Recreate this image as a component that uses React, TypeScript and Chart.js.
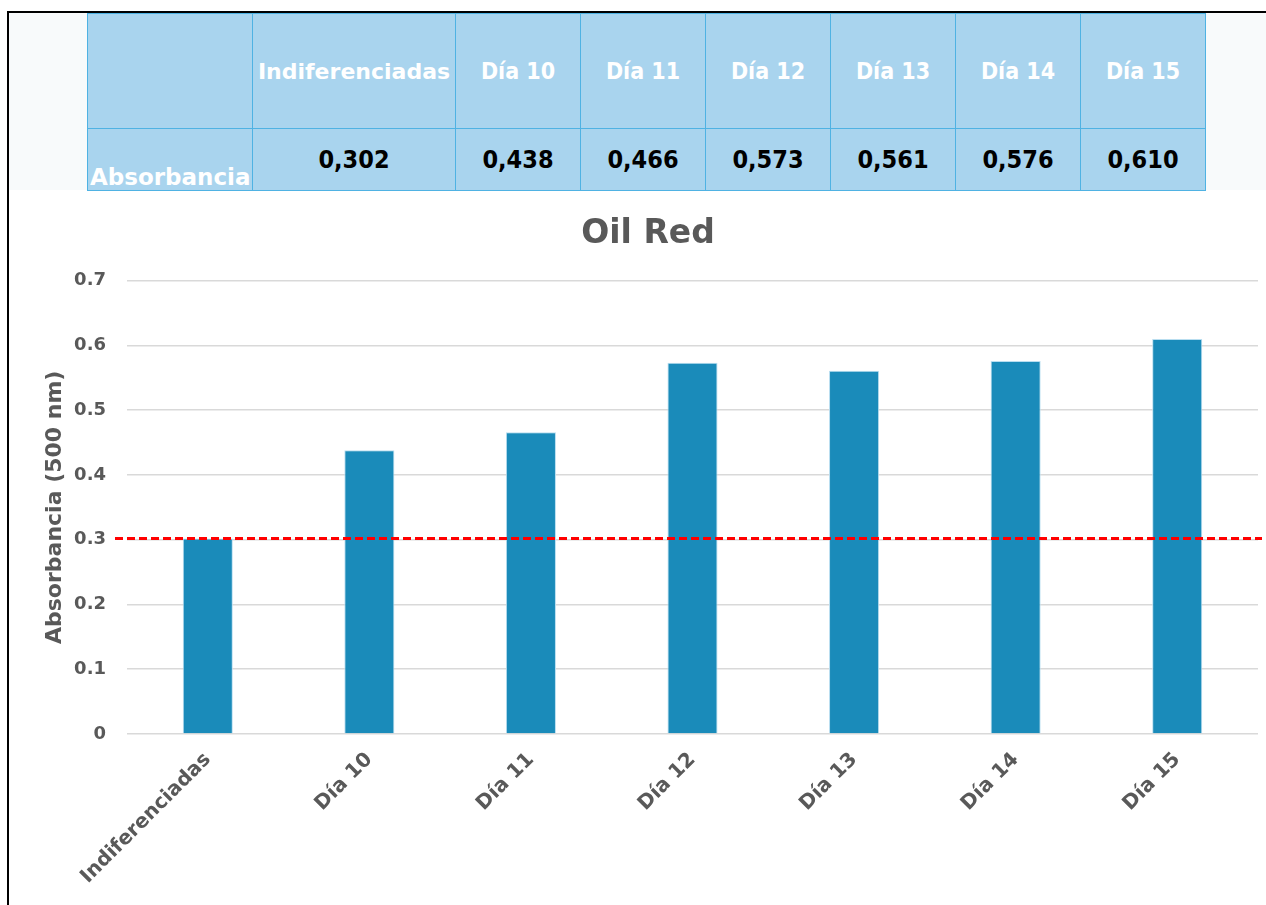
import React, { useEffect, useRef } from "react";
import { Chart, registerables } from "chart.js";

Chart.register(...registerables);

// ---- data ----
const categories = ["Indiferenciadas", "Día 10", "Día 11", "Día 12", "Día 13", "Día 14", "Día 15"];
const absorbance = [0.302, 0.438, 0.466, 0.573, 0.561, 0.576, 0.61];
const tableValueLabels = ["0,302", "0,438", "0,466", "0,573", "0,561", "0,576", "0,610"];
const yTickValues = [0, 0.1, 0.2, 0.3, 0.4, 0.5, 0.6, 0.7];
const chartTitle = "Oil Red";
const yAxisTitle = "Absorbancia (500 nm)";
const tableRowLabel = "Absorbancia";
const thresholdValue = absorbance[0];

// ---- layout / style ----
const FONT = "'DejaVu Sans', 'Open Sans', sans-serif";
const FONT_COND = "'DejaVu Sans Condensed', 'Liberation Sans Narrow', 'DejaVu Sans', sans-serif";
const GREY = "#595959";
const TABLE_BG = "#a9d4ee";
const TABLE_LINE = "#4fb2e3";
const colWidths = [165, 203, 125, 125, 125, 125, 125, 125];
const TABLE_LEFT = 87;
const ROW1_TOP = 13;
const ROW1_H = 115;
const ROW2_H = 62;

const thresholdPlugin = {
  id: "thresholdLine",
  afterDatasetsDraw(chart: any) {
    const { ctx, chartArea, scales } = chart;
    const y = scales.y.getPixelForValue(thresholdValue);
    ctx.save();
    ctx.strokeStyle = "#ff0000";
    ctx.lineWidth = 3;
    ctx.setLineDash([8, 4]);
    ctx.beginPath();
    ctx.moveTo(chartArea.left - 12, y);
    ctx.lineTo(chartArea.right + 4, y);
    ctx.stroke();
    ctx.restore();
  },
};

function OilRedChart() {
  const ref = useRef<HTMLCanvasElement | null>(null);
  useEffect(() => {
    if (!ref.current) return;
    const chart = new Chart(ref.current, {
      type: "bar",
      data: {
        labels: categories,
        datasets: [
          {
            data: absorbance,
            backgroundColor: "#1a8bba",
            borderColor: "#b9def0",
            borderWidth: { left: 1, right: 1, top: 1, bottom: 0 },
            barPercentage: 0.31,
            categoryPercentage: 1,
          },
        ],
      },
      options: {
        animation: false,
        responsive: false,
        maintainAspectRatio: false,
        layout: { padding: { left: 28, right: 8, top: 0, bottom: 0 } },
        plugins: {
          legend: { display: false },
          tooltip: { enabled: false },
          title: {
            display: true,
            text: chartTitle,
            color: GREY,
            font: { family: FONT, size: 33, weight: "bold" },
            padding: { top: 25, bottom: 26 },
          },
        },
        scales: {
          x: {
            grid: { display: false },
            border: { display: false },
            ticks: {
              color: GREY,
              font: { family: FONT, size: 20, weight: "bold" },
              minRotation: 45,
              maxRotation: 45,
              padding: 6,
            },
            afterFit(scale: any) {
              scale.height = 171;
            },
          },
          y: {
            min: 0,
            max: 0.7,
            afterBuildTicks(scale: any) {
              scale.ticks = yTickValues.map((v) => ({ value: v }));
            },
            grid: { color: "#d9d9d9", lineWidth: 1.5, drawTicks: false },
            border: { display: false },
            ticks: {
              color: GREY,
              font: { family: FONT, size: 18, weight: "bold" },
              padding: 21,
              callback: (v: any) => (Number(v) === 0 ? "0" : Number(v).toFixed(1)),
            },
            title: {
              display: true,
              text: yAxisTitle,
              color: GREY,
              font: { family: FONT, size: 22, weight: "bold" },
              padding: { top: 4, bottom: 4 },
            },
            afterFit(scale: any) {
              scale.width = 89;
            },
          },
        },
      },
      plugins: [thresholdPlugin],
    } as any);
    return () => chart.destroy();
  }, []);
  return <canvas ref={ref} width={1256} height={715} style={{ position: "absolute", left: 10, top: 190, width: 1256, height: 715 }} />;
}

function DataTable() {
  const cells: React.ReactNode[] = [];
  let x = TABLE_LEFT;
  const headers = ["", ...categories];
  const values = [tableRowLabel, ...tableValueLabels];
  colWidths.forEach((w, i) => {
    const isFirst = i === 0;
    const isWide = i === 1;
    cells.push(
      <div
        key={"h" + i}
        style={{
          position: "absolute",
          left: x,
          top: ROW1_TOP,
          width: w + 1,
          height: ROW1_H + 1,
          boxSizing: "border-box",
          border: `1px solid ${TABLE_LINE}`,
          background: TABLE_BG,
          display: "flex",
          alignItems: "center",
          justifyContent: "center",
          color: "#ffffff",
          fontFamily: isWide ? FONT : FONT_COND,
          fontWeight: "bold",
          fontSize: isWide ? 22 : 23,
          whiteSpace: "nowrap",
        }}
      >
        {headers[i]}
      </div>
    );
    cells.push(
      <div
        key={"v" + i}
        style={{
          position: "absolute",
          left: x,
          top: ROW1_TOP + ROW1_H,
          width: w + 1,
          height: ROW2_H + 1,
          boxSizing: "border-box",
          border: `1px solid ${TABLE_LINE}`,
          background: TABLE_BG,
          display: "flex",
          alignItems: isFirst ? "flex-end" : "center",
          justifyContent: isFirst ? "flex-start" : "center",
          paddingLeft: isFirst ? 2 : 0,
          paddingBottom: isFirst ? 1 : 0,
          color: isFirst ? "#ffffff" : "#000000",
          fontFamily: isFirst ? FONT : FONT_COND,
          fontWeight: "bold",
          fontSize: isFirst ? 23 : 25,
          lineHeight: 1,
          whiteSpace: "nowrap",
          overflow: "hidden",
        }}
      >
        {values[i]}
      </div>
    );
    x += w;
  });
  return <>{cells}</>;
}

export default function App() {
  useEffect(() => {
    document.body.style.margin = "0";
  }, []);
  return (
    <div style={{ position: "relative", width: 1266, height: 905, overflow: "hidden", background: "#ffffff" }}>
      <div style={{ position: "absolute", left: 9, top: 13, width: 1257, height: 177, background: "#f8fafb" }} />
      <DataTable />
      <OilRedChart />
      <div style={{ position: "absolute", left: 7, top: 11, width: 1259, height: 2, background: "#000" }} />
      <div style={{ position: "absolute", left: 7, top: 11, width: 2, height: 894, background: "#000" }} />
    </div>
  );
}
